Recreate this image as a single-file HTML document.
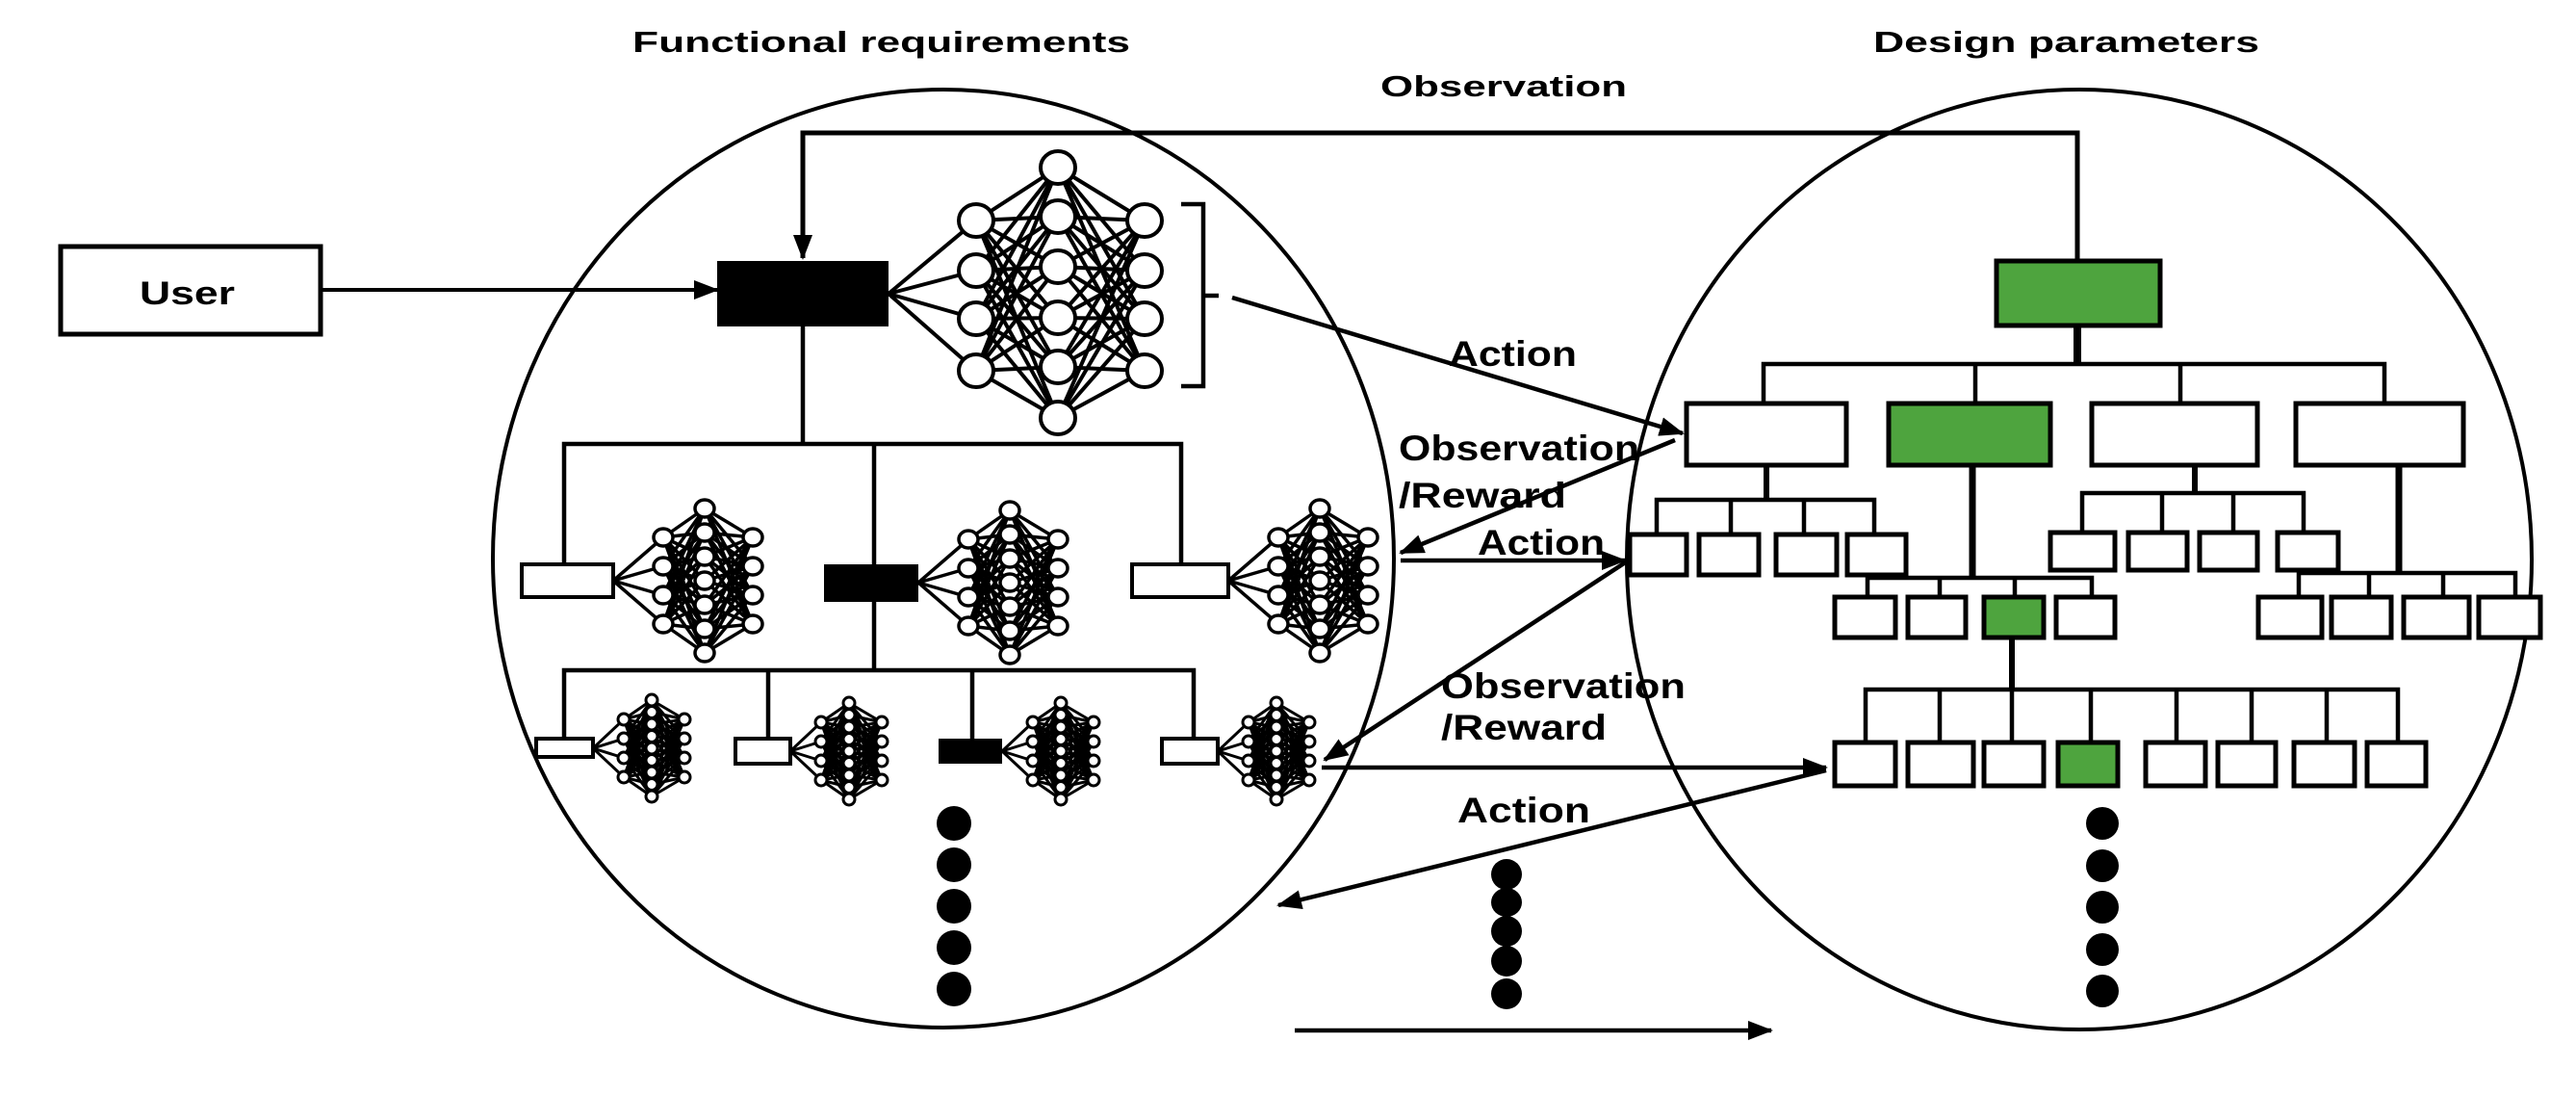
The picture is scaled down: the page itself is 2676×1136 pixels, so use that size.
<!DOCTYPE html>
<html><head><meta charset="utf-8"><style>
html,body{margin:0;padding:0;background:#fff;}
svg{display:block;}
text{font-family:"Liberation Sans",sans-serif;font-weight:bold;fill:#000;}
</style></head><body>
<svg id="s" width="2676" height="1136" viewBox="0 0 2676 1136" xmlns="http://www.w3.org/2000/svg">
<defs>
<marker id="ab" markerWidth="26" markerHeight="20" refX="24" refY="10" orient="auto" markerUnits="userSpaceOnUse" viewBox="0 0 26 20">
<path d="M0,0 L26,10 L0,20 z" fill="#000"/></marker>
</defs>
<rect width="2676" height="1136" fill="#fff"/>
<text x="657" y="54" font-size="31" textLength="517" lengthAdjust="spacingAndGlyphs">Functional requirements</text>
<text x="1946" y="54" font-size="31" textLength="401" lengthAdjust="spacingAndGlyphs">Design parameters</text>
<text x="1434" y="100" font-size="31" textLength="256" lengthAdjust="spacingAndGlyphs">Observation</text>

<ellipse cx="980" cy="580" rx="468" ry="487" fill="none" stroke="#000" stroke-width="4"/>
<ellipse cx="2160" cy="581" rx="470" ry="488" fill="none" stroke="#000" stroke-width="4"/>

<rect x="63" y="256" width="270" height="91" fill="#fff" stroke="#000" stroke-width="5"/>
<text x="145" y="316" font-size="34" textLength="99" lengthAdjust="spacingAndGlyphs">User</text>
<line x1="333" y1="301" x2="745" y2="301" stroke="#000" stroke-width="4" marker-end="url(#ab)"/>

<polyline points="2158,271 2158,138 834,138 834,268" fill="none" stroke="#000" stroke-width="5" marker-end="url(#ab)"/>

<g id="nn" stroke="#000" fill="none"></g>

<g stroke="#000" stroke-width="4.5" fill="none">
<line x1="834" y1="339" x2="834" y2="461"/>
<polyline points="586,586 586,461 1227,461 1227,586"/>
<line x1="908" y1="461" x2="908" y2="696"/>
<polyline points="586,767 586,696 1240,696 1240,767"/>
<line x1="798" y1="696" x2="798" y2="767"/>
<line x1="1010" y1="696" x2="1010" y2="767"/>
<polyline points="1227,212 1250,212 1250,401 1227,401"/>
<line x1="1250" y1="307" x2="1266" y2="307"/>
</g>
<rect x="745" y="271" width="178" height="68" fill="#000"/>
<rect x="542" y="586" width="95" height="34" fill="#fff" stroke="#000" stroke-width="4"/>
<rect x="856" y="586" width="98" height="39" fill="#000"/>
<rect x="1176" y="586" width="100" height="34" fill="#fff" stroke="#000" stroke-width="4"/>
<rect x="557" y="767" width="59" height="19" fill="#fff" stroke="#000" stroke-width="4"/>
<rect x="764" y="767" width="57" height="26" fill="#fff" stroke="#000" stroke-width="4"/>
<rect x="975" y="767" width="66" height="26" fill="#000"/>
<rect x="1207" y="767" width="58" height="26" fill="#fff" stroke="#000" stroke-width="4"/>

<g fill="#000">
<ellipse cx="991" cy="855" rx="18" ry="18"/><ellipse cx="991" cy="898" rx="18" ry="18"/><ellipse cx="991" cy="941" rx="18" ry="18"/><ellipse cx="991" cy="984" rx="18" ry="18"/><ellipse cx="991" cy="1027" rx="18" ry="18"/>
<ellipse cx="1565" cy="908" rx="16" ry="16"/><ellipse cx="1565" cy="937" rx="16" ry="15"/><ellipse cx="1565" cy="967" rx="16" ry="16"/><ellipse cx="1565" cy="998" rx="16" ry="16"/><ellipse cx="1565" cy="1032" rx="16" ry="16"/>
<ellipse cx="2184" cy="855" rx="17" ry="17"/><ellipse cx="2184" cy="899" rx="17" ry="17"/><ellipse cx="2184" cy="942" rx="17" ry="17"/><ellipse cx="2184" cy="986" rx="17" ry="17"/><ellipse cx="2184" cy="1029" rx="17" ry="17"/>
</g>

<g stroke="#000" stroke-width="4.5" fill="none">
<line x1="2158" y1="338" x2="2158" y2="378" stroke-width="8"/>
<polyline points="1832,419 1832,378 2477,378 2477,419"/>
<line x1="2052" y1="378" x2="2052" y2="419"/>
<line x1="2265" y1="378" x2="2265" y2="419"/>
<line x1="1835" y1="483" x2="1835" y2="519" stroke-width="6"/>
<polyline points="1721,555 1721,519 1947,519 1947,555"/>
<line x1="1798" y1="519" x2="1798" y2="555"/><line x1="1874" y1="519" x2="1874" y2="555"/>
<line x1="2049" y1="483" x2="2049" y2="600" stroke-width="7"/>
<polyline points="1940,620 1940,600 2173,600 2173,620"/>
<line x1="2015" y1="600" x2="2015" y2="620"/><line x1="2093" y1="600" x2="2093" y2="620"/>
<line x1="2280" y1="483" x2="2280" y2="512" stroke-width="6"/>
<polyline points="2163,553 2163,512 2393,512 2393,553"/>
<line x1="2246" y1="512" x2="2246" y2="553"/><line x1="2320" y1="512" x2="2320" y2="553"/>
<line x1="2492" y1="483" x2="2492" y2="595" stroke-width="7"/>
<polyline points="2388,620 2388,595 2613,595 2613,620"/>
<line x1="2461" y1="595" x2="2461" y2="620"/><line x1="2538" y1="595" x2="2538" y2="620"/>
<line x1="2090" y1="662" x2="2090" y2="716" stroke-width="6"/>
<polyline points="1938,771 1938,716 2491,716 2491,771"/>
<line x1="2015" y1="716" x2="2015" y2="771"/><line x1="2090" y1="716" x2="2090" y2="771"/><line x1="2172" y1="716" x2="2172" y2="771"/>
<line x1="2261" y1="716" x2="2261" y2="771"/><line x1="2339" y1="716" x2="2339" y2="771"/><line x1="2417" y1="716" x2="2417" y2="771"/>
</g>
<g stroke="#000" stroke-width="5" fill="#fff">
<rect x="2074" y="271" width="170" height="67" fill="#4ea43e"/>
<rect x="1752" y="419" width="166" height="64"/>
<rect x="1962" y="419" width="168" height="64" fill="#4ea43e"/>
<rect x="2173" y="419" width="172" height="64"/>
<rect x="2385" y="419" width="174" height="64"/>
<rect x="1693" y="555" width="59" height="42"/><rect x="1765" y="555" width="62" height="42"/><rect x="1845" y="555" width="63" height="42"/><rect x="1919" y="555" width="61" height="42"/>
<rect x="1906" y="620" width="63" height="42"/><rect x="1982" y="620" width="60" height="42"/><rect x="2061" y="620" width="62" height="42" fill="#4ea43e"/><rect x="2136" y="620" width="61" height="42"/>
<rect x="2130" y="553" width="67" height="39"/><rect x="2211" y="553" width="61" height="39"/><rect x="2285" y="553" width="60" height="39"/><rect x="2366" y="553" width="63" height="39"/>
<rect x="2346" y="620" width="66" height="42"/><rect x="2422" y="620" width="62" height="42"/><rect x="2497" y="620" width="68" height="42"/><rect x="2575" y="620" width="64" height="42"/>
<rect x="1906" y="771" width="63" height="45"/><rect x="1982" y="771" width="68" height="45"/><rect x="2061" y="771" width="62" height="45"/><rect x="2138" y="771" width="62" height="45" fill="#4ea43e"/>
<rect x="2229" y="771" width="62" height="45"/><rect x="2304" y="771" width="60" height="45"/><rect x="2383" y="771" width="63" height="45"/><rect x="2459" y="771" width="61" height="45"/>
</g>

<g stroke="#000" stroke-width="4.5" fill="none">
<line x1="1280" y1="309" x2="1748" y2="450" marker-end="url(#ab)"/>
<line x1="1740" y1="457" x2="1455" y2="574" marker-end="url(#ab)"/>
<line x1="1455" y1="582" x2="1688" y2="582" marker-end="url(#ab)"/>
<line x1="1690" y1="583" x2="1376" y2="789" marker-end="url(#ab)"/>
<line x1="1373" y1="797" x2="1897" y2="797" marker-end="url(#ab)"/>
<line x1="1897" y1="800" x2="1328" y2="940" marker-end="url(#ab)"/>
<line x1="1345" y1="1070" x2="1840" y2="1070" marker-end="url(#ab)"/>
</g>
<g font-size="37">
<text x="1505" y="380" textLength="133" lengthAdjust="spacingAndGlyphs">Action</text>
<text x="1453" y="478" textLength="250" lengthAdjust="spacingAndGlyphs">Observation</text>
<text x="1453" y="527" textLength="174" lengthAdjust="spacingAndGlyphs">/Reward</text>
<text x="1535" y="576" textLength="132" lengthAdjust="spacingAndGlyphs">Action</text>
<text x="1497" y="725" textLength="254" lengthAdjust="spacingAndGlyphs">Observation</text>
<text x="1497" y="768" textLength="172" lengthAdjust="spacingAndGlyphs">/Reward</text>
<text x="1514" y="854" textLength="138" lengthAdjust="spacingAndGlyphs">Action</text>
</g>
</svg>
<script>
(function(){
var g=document.getElementById('nn'),out='';
function L(a,b,c,d,w){out+='<line x1="'+a+'" y1="'+b+'" x2="'+c+'" y2="'+d+'" stroke-width="'+w+'"/>';}
function C(x,y,rx,ry,w){out+='<ellipse cx="'+x+'" cy="'+y+'" rx="'+rx+'" ry="'+ry+'" fill="#fff" stroke-width="'+w+'"/>';}
function ys(c,n,sp){var a=[];for(var i=0;i<n;i++)a.push(c+(i-(n-1)/2)*sp);return a;}
function nn(ax,ay,dx1,dx2,dx3,y1,y2,y3,rx,ry,w,wl){
 y1.forEach(function(y){L(ax,ay,ax+dx1,y,wl);});
 y1.forEach(function(a){y2.forEach(function(b){L(ax+dx1,a,ax+dx2,b,wl);});});
 y2.forEach(function(a){y3.forEach(function(b){L(ax+dx2,a,ax+dx3,b,wl);});});
 y1.forEach(function(y){C(ax+dx1,y,rx,ry,w);});
 y2.forEach(function(y){C(ax+dx2,y,rx,ry,w);});
 y3.forEach(function(y){C(ax+dx3,y,rx,ry,w);});
}
nn(923,305,91,176,266,[229,281,331,385],[174,225,277,330,381,434],[229,281,331,385],18,17,4,4);
[[637,603],[954,605],[1276,603]].forEach(function(p){
 nn(p[0],p[1],52,95,145,ys(p[1],4,30),ys(p[1],7,25),ys(p[1],4,30),10,9,3.5,3.5);
});
[[616,777],[821,780],[1041,780],[1265,780]].forEach(function(p){
 nn(p[0],p[1],32,61,95,ys(p[1],4,20),ys(p[1],9,12.5),ys(p[1],4,20),6,6,3,3);
});
g.innerHTML=out;
})();
</script>
</body></html>
